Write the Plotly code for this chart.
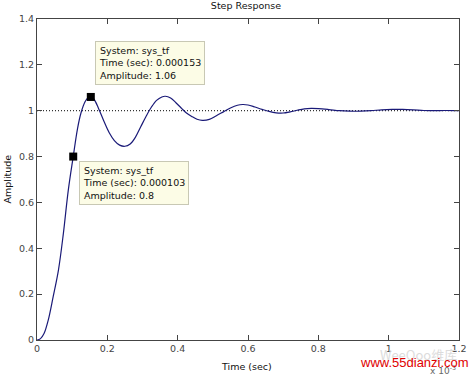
import plotly.graph_objects as go

# Step response (time in units of 1e-3 s)
t_ms = [0, 0.01, 0.02, 0.032, 0.046, 0.061, 0.075, 0.089, 0.103, 0.115, 0.125, 0.137, 0.145, 0.153,
        0.162, 0.175, 0.19, 0.205, 0.22, 0.235, 0.25, 0.265, 0.28, 0.295, 0.31, 0.325, 0.34, 0.355,
        0.365, 0.38, 0.395, 0.41, 0.425, 0.44, 0.455, 0.47, 0.49, 0.51, 0.53, 0.55, 0.57, 0.585, 0.6,
        0.62, 0.64, 0.66, 0.68, 0.7, 0.72, 0.74, 0.76, 0.78, 0.8, 0.83, 0.86, 0.89, 0.92, 0.95, 0.98,
        1.01, 1.04, 1.07, 1.1, 1.13, 1.16, 1.2]
amplitude = [0, 0.006, 0.028, 0.087, 0.189, 0.305, 0.465, 0.654, 0.8, 0.92, 0.99, 1.04, 1.057, 1.06,
             1.05, 1.01, 0.955, 0.905, 0.87, 0.85, 0.845, 0.855, 0.885, 0.93, 0.975, 1.015, 1.045, 1.06,
             1.063, 1.055, 1.035, 1.012, 0.99, 0.975, 0.963, 0.958, 0.962, 0.978, 0.995, 1.012, 1.024,
             1.027, 1.025, 1.016, 1.006, 0.997, 0.991, 0.99, 0.995, 1.002, 1.008, 1.01, 1.009, 1.005,
             1.0, 0.998, 0.998, 1.0, 1.004, 1.006, 1.006, 1.004, 1.001, 1.0, 1.001, 1.0]

final_value = [1.0, 1.0]
final_t = [0, 1.2]

tip_t = [0.103, 0.153]
tip_amp = [0.8, 1.06]
tip_labels = ["System: sys_tf<br>Time (sec): 0.000103<br>Amplitude: 0.8",
              "System: sys_tf<br>Time (sec): 0.000153<br>Amplitude: 1.06"]
tip_box_pos = [(0.12, 0.781), (0.165, 1.304)]

x_ticks = [0, 0.2, 0.4, 0.6, 0.8, 1.0, 1.2]
x_ticklabels = ["0", "0.2", "0.4", "0.6", "0.8", "1", "1.2"]
y_ticks = [0, 0.2, 0.4, 0.6, 0.8, 1.0, 1.2, 1.4]
y_ticklabels = ["0", "0.2", "0.4", "0.6", "0.8", "1", "1.2", "1.4"]

FONT = "DejaVu Sans, Verdana, sans-serif"
W, H = 474, 376
L, R, T, B = 37, 15, 19, 36

fig = go.Figure()
fig.add_trace(go.Scatter(x=final_t, y=final_value, mode="lines",
                         line=dict(color="black", width=1, dash="1px,2px"), hoverinfo="skip"))
fig.add_trace(go.Scatter(x=t_ms, y=amplitude, mode="lines", line_shape="spline",
                         line=dict(color="#1a1a78", width=1.2)))
fig.add_trace(go.Scatter(x=tip_t, y=tip_amp, mode="markers",
                         marker=dict(symbol="square", size=8, color="black")))

for (bx, by), txt in zip(tip_box_pos, tip_labels):
    fig.add_annotation(x=bx, y=by, xref="x", yref="y", text=txt, showarrow=False,
                       xanchor="left", yanchor="top", align="left",
                       font=dict(family=FONT, size=9.5, color="#111111"),
                       bgcolor="#fcfce6", bordercolor="#c8c8b4", borderwidth=1, borderpad=3)

def px_x(p):
    return (p - L) / (W - L - R)

def px_y(p):
    return (H - B - p) / (H - T - B)

# axis titles
fig.add_annotation(x=px_x(246), y=px_y(366), xref="paper", yref="paper", xanchor="center",
                   yanchor="middle", text="Time (sec)", showarrow=False,
                   font=dict(family=FONT, size=9.5, color="#111111"))
fig.add_annotation(x=px_x(7), y=0.5, xref="paper", yref="paper", xanchor="center",
                   yanchor="middle", text="Amplitude", textangle=-90, showarrow=False,
                   font=dict(family=FONT, size=9.5, color="#111111"))

# watermark and exponent
fig.add_annotation(x=px_x(418), y=px_y(355), xref="paper", yref="paper", xanchor="center",
                   yanchor="middle", text="WeeQoo维库", showarrow=False,
                   font=dict(family="Noto Sans CJK SC, sans-serif", size=13, color="#dcdcdc"))
fig.add_annotation(x=px_x(443), y=px_y(370), xref="paper", yref="paper", xanchor="center",
                   yanchor="middle", text="x 10<sup>-3</sup>", showarrow=False,
                   font=dict(family=FONT, size=9, color="#666666"))
fig.add_annotation(x=px_x(414), y=px_y(363), xref="paper", yref="paper", xanchor="center",
                   yanchor="middle", text="www.55dianzi.com", showarrow=False,
                   font=dict(family="Liberation Sans, Arial, sans-serif", size=13, color="#e00000"))

axis_common = dict(showgrid=False, zeroline=False, showline=True, linecolor="#444444", linewidth=1,
                   mirror="allticks", ticks="inside", ticklen=5, tickcolor="#444444", automargin=False,
                   tickfont=dict(family=FONT, size=9.5, color="#444444"))

fig.update_layout(
    width=W, height=H,
    margin=dict(l=L, r=R, t=T, b=B),
    paper_bgcolor="white", plot_bgcolor="white",
    showlegend=False,
    title=dict(text="Step Response", x=246 / W, xanchor="center",
               y=1 - 6 / H, yanchor="middle", xref="container", yref="container",
               font=dict(family=FONT, size=9.5, color="#111111")),
    xaxis=dict(range=[0, 1.2], tickvals=x_ticks, ticktext=x_ticklabels, **axis_common),
    yaxis=dict(range=[0, 1.4], tickvals=y_ticks, ticktext=y_ticklabels, **axis_common),
)

fig.write_html("out.html", config={"displayModeBar": False},
               post_script="document.body.style.margin='0';")
